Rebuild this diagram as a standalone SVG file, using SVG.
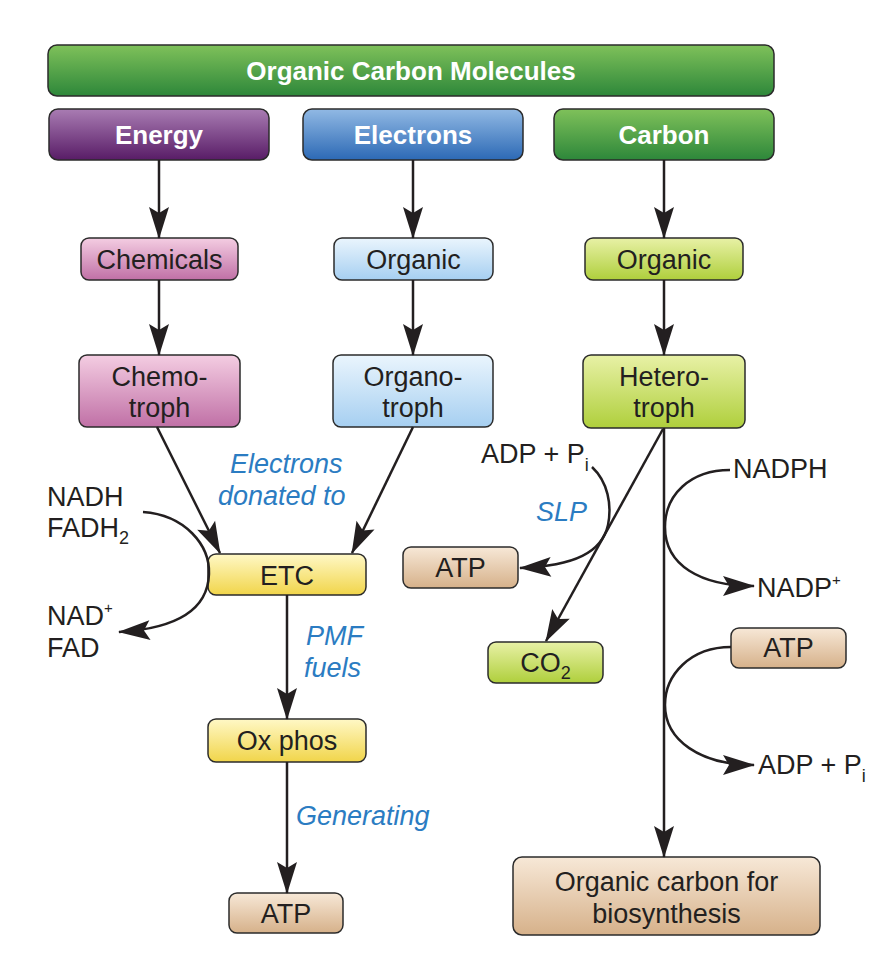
<svg xmlns="http://www.w3.org/2000/svg" width="886" height="960" viewBox="0 0 886 960">
<defs>
<linearGradient id="gGreen" x1="0" y1="0" x2="0" y2="1"><stop offset="0" stop-color="#7fc15a"/><stop offset="1" stop-color="#2d873a"/></linearGradient>
<linearGradient id="gPurple" x1="0" y1="0" x2="0" y2="1"><stop offset="0" stop-color="#a97cb3"/><stop offset="1" stop-color="#581c66"/></linearGradient>
<linearGradient id="gBlue" x1="0" y1="0" x2="0" y2="1"><stop offset="0" stop-color="#91b9e4"/><stop offset="1" stop-color="#2c69b5"/></linearGradient>
<linearGradient id="gPink" x1="0" y1="0" x2="0" y2="1"><stop offset="0" stop-color="#f4cde2"/><stop offset="1" stop-color="#c070a6"/></linearGradient>
<linearGradient id="gLBlue" x1="0" y1="0" x2="0" y2="1"><stop offset="0" stop-color="#eaf5fd"/><stop offset="1" stop-color="#a6cff1"/></linearGradient>
<linearGradient id="gYG" x1="0" y1="0" x2="0" y2="1"><stop offset="0" stop-color="#e8f1a6"/><stop offset="1" stop-color="#afcf3c"/></linearGradient>
<linearGradient id="gYellow" x1="0" y1="0" x2="0" y2="1"><stop offset="0" stop-color="#fff8c6"/><stop offset="1" stop-color="#f1d54a"/></linearGradient>
<linearGradient id="gTan" x1="0" y1="0" x2="0" y2="1"><stop offset="0" stop-color="#f7e8d7"/><stop offset="1" stop-color="#d6b18a"/></linearGradient>
<marker id="arr" markerUnits="userSpaceOnUse" markerWidth="32" markerHeight="20" refX="31" refY="10" orient="auto" overflow="visible">
<path d="M0,0 L32,10 L0,20 L6,10 Z" fill="#231f20"/>
</marker>
</defs>
<style>
.box{stroke:#2b2b2b;stroke-width:1.5}
.hdr{font-family:"Liberation Sans",Arial,sans-serif;font-weight:700;font-size:26px;fill:#ffffff;text-anchor:middle}
.lbl{font-family:"Liberation Sans",Arial,sans-serif;font-size:27px;fill:#231f20;text-anchor:middle}
.txt{font-family:"Liberation Sans",Arial,sans-serif;font-size:27px;fill:#231f20}
.it{font-family:"Liberation Sans",Arial,sans-serif;font-style:italic;font-size:27px;fill:#2b7cc2}
.ln{fill:none;stroke:#231f20;stroke-width:2.5}
</style>
<rect width="886" height="960" fill="#ffffff"/>

<g id="n-organic-carbon-molecules"><rect class="box" x="48" y="45" width="726" height="51" rx="9" fill="url(#gGreen)"/><text class="hdr" x="411" y="80">Organic Carbon Molecules</text></g>
<g id="n-energy"><rect class="box" x="49" y="109" width="220" height="51" rx="9" fill="url(#gPurple)"/><text class="hdr" x="159" y="144">Energy</text></g>
<g id="n-electrons"><rect class="box" x="303" y="109" width="220" height="51" rx="9" fill="url(#gBlue)"/><text class="hdr" x="413" y="144">Electrons</text></g>
<g id="n-carbon"><rect class="box" x="554" y="109" width="220" height="51" rx="9" fill="url(#gGreen)"/><text class="hdr" x="664" y="144">Carbon</text></g>

<g id="n-chemicals"><rect class="box" x="81" y="238" width="157" height="42" rx="8" fill="url(#gPink)"/><text class="lbl" x="159.5" y="269">Chemicals</text></g>
<g id="n-organic-e"><rect class="box" x="334" y="238" width="159" height="42" rx="8" fill="url(#gLBlue)"/><text class="lbl" x="413.5" y="269">Organic</text></g>
<g id="n-organic-c"><rect class="box" x="585" y="238" width="158" height="42" rx="8" fill="url(#gYG)"/><text class="lbl" x="664" y="269">Organic</text></g>

<g id="n-chemotroph"><rect class="box" x="79" y="355" width="161" height="72" rx="8" fill="url(#gPink)"/><text class="lbl" x="159.5" y="386">Chemo-</text><text class="lbl" x="159.5" y="417">troph</text></g>
<g id="n-organotroph"><rect class="box" x="333" y="355" width="160" height="72" rx="8" fill="url(#gLBlue)"/><text class="lbl" x="413" y="386">Organo-</text><text class="lbl" x="413" y="417">troph</text></g>
<g id="n-heterotroph"><rect class="box" x="583" y="355" width="162" height="73" rx="8" fill="url(#gYG)"/><text class="lbl" x="664" y="386">Hetero-</text><text class="lbl" x="664" y="417">troph</text></g>

<g id="n-etc"><rect class="box" x="208" y="554" width="158" height="41" rx="8" fill="url(#gYellow)"/><text class="lbl" x="287" y="585">ETC</text></g>
<g id="n-oxphos"><rect class="box" x="208" y="719" width="158" height="43" rx="8" fill="url(#gYellow)"/><text class="lbl" x="287" y="750">Ox phos</text></g>
<g id="n-atp-bottom"><rect class="box" x="229" y="893" width="114" height="40" rx="8" fill="url(#gTan)"/><text class="lbl" x="286" y="923">ATP</text></g>
<g id="n-atp-slp"><rect class="box" x="403" y="547" width="115" height="41" rx="8" fill="url(#gTan)"/><text class="lbl" x="460.5" y="577">ATP</text></g>
<g id="n-co2"><rect class="box" x="488" y="642" width="115" height="41" rx="8" fill="url(#gYG)"/><text class="lbl" x="545.5" y="672">CO<tspan font-size="18" dy="7">2</tspan></text></g>
<g id="n-atp-right"><rect class="box" x="731" y="628" width="115" height="40" rx="8" fill="url(#gTan)"/><text class="lbl" x="788.5" y="657">ATP</text></g>
<g id="n-biosynthesis"><rect class="box" x="513" y="857" width="307" height="78" rx="9" fill="url(#gTan)"/><text class="lbl" x="666.5" y="891">Organic carbon for</text><text class="lbl" x="666.5" y="923">biosynthesis</text></g>

<g id="labels">
<text class="txt" x="47" y="506">NADH</text>
<text class="txt" x="47" y="537">FADH<tspan font-size="18" dy="7">2</tspan></text>
<text class="txt" x="47" y="625">NAD<tspan font-size="15" dy="-12">+</tspan></text>
<text class="txt" x="47" y="657">FAD</text>
<text class="it" x="230" y="473">Electrons</text>
<text class="it" x="218" y="505">donated to</text>
<text class="it" x="306" y="645">PMF</text>
<text class="it" x="304" y="677">fuels</text>
<text class="it" x="296" y="825">Generating</text>
<text class="txt" x="481" y="463">ADP + P<tspan font-size="18" dy="8">i</tspan></text>
<text class="it" x="536" y="521">SLP</text>
<text class="txt" x="733" y="478">NADPH</text>
<text class="txt" x="757" y="597">NADP<tspan font-size="15" dy="-12">+</tspan></text>
<text class="txt" x="758" y="774">ADP + P<tspan font-size="18" dy="8">i</tspan></text>
</g>

<g id="connectors">
<path class="ln" d="M159,160 L159,238" marker-end="url(#arr)"/>
<path class="ln" d="M413,160 L413,238" marker-end="url(#arr)"/>
<path class="ln" d="M664,160 L664,238" marker-end="url(#arr)"/>
<path class="ln" d="M159,280 L159,355" marker-end="url(#arr)"/>
<path class="ln" d="M413,280 L413,355" marker-end="url(#arr)"/>
<path class="ln" d="M664,280 L664,355" marker-end="url(#arr)"/>
<path class="ln" d="M157,427 L220,553" marker-end="url(#arr)"/>
<path class="ln" d="M413,427 L352,553" marker-end="url(#arr)"/>
<path class="ln" d="M143,512 C185,515 210,545 209,574 C208,605 185,628 119,632" marker-end="url(#arr)"/>
<path class="ln" d="M287,595 L287,719" marker-end="url(#arr)"/>
<path class="ln" d="M287,762 L287,893" marker-end="url(#arr)"/>
<path class="ln" d="M663,429 L546,641" marker-end="url(#arr)"/>
<path class="ln" d="M664,428 L664,857" marker-end="url(#arr)"/>
<path class="ln" d="M592,467 C608,482 612,505 608,525 C602,552 575,566 520,568" marker-end="url(#arr)"/>
<path class="ln" d="M730,470 C690,470 665,495 665,527 C665,565 700,586 754,586" marker-end="url(#arr)"/>
<path class="ln" d="M731,647 C690,647 665,675 665,705 C665,740 700,765 754,765" marker-end="url(#arr)"/>
</g>
</svg>
